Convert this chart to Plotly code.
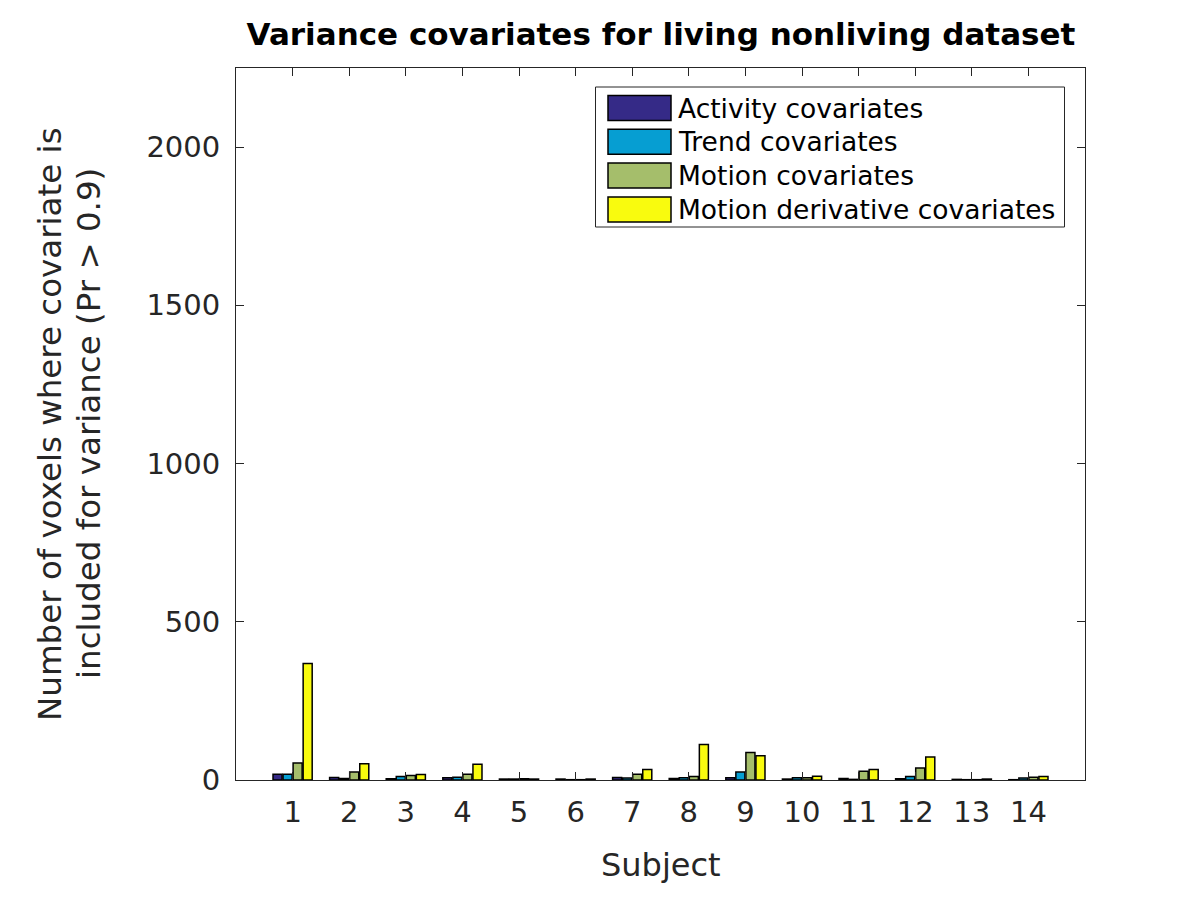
import plotly.graph_objects as go

subjects = list(range(1, 15))
activity = [18, 8, 4, 7, 3, 3, 8, 5, 7, 3, 5, 4, 2, 1]
trend = [18, 5, 11, 9, 3, 1, 6, 7, 25, 7, 2, 11, 1, 6]
motion = [54, 25, 14, 18, 4, 1, 18, 11, 87, 7, 28, 38, 1, 9]
motion_deriv = [368, 51, 17, 50, 3, 3, 33, 112, 77, 12, 33, 73, 3, 11]

series_names = ["Activity covariates", "Trend covariates", "Motion covariates",
                "Motion derivative covariates"]
series_vals = [activity, trend, motion, motion_deriv]
colors = ["#352a87", "#069ed2", "#a5be6b", "#f9fb0e"]

y_ticks = [0, 500, 1000, 1500, 2000]

title_text = "Variance covariates for living nonliving dataset"
xlabel = "Subject"
ylabel_lines = ["Number of voxels where covariate is", "included for variance (Pr > 0.9)"]

# page geometry of plot area (page pixels; body has 8px offset)
PX0, PX1, PY0, PY1 = 236, 1085, 68, 780
def px(x):
    return (x - PX0) / (PX1 - PX0)
def py(y):
    return (PY1 - y) / (PY1 - PY0)

fig = go.Figure()
for name, vals, c in zip(series_names, series_vals, colors):
    fig.add_trace(go.Bar(x=subjects, y=vals, name=name,
                         marker=dict(color=c, line=dict(color="#000000", width=1.5))))

font_family = "DejaVu Sans"
shapes = []
annotations = []

# legend box
shapes.append(dict(type="rect", xref="paper", yref="paper",
                   x0=px(595.5), x1=px(1064.5), y0=py(227), y1=py(87),
                   line=dict(color="#262626", width=1), fillcolor="white", layer="above"))
for i, (name, c) in enumerate(zip(series_names, colors)):
    cy = 108 + i * 33.8
    shapes.append(dict(type="rect", xref="paper", yref="paper",
                       x0=px(608), x1=px(671), y0=py(cy + 12.5), y1=py(cy - 12.5),
                       line=dict(color="#000000", width=1.5), fillcolor=c, layer="above"))
    annotations.append(dict(text=name, xref="paper", yref="paper",
                            x=px(676), y=py(cy), xanchor="left", yanchor="middle",
                            showarrow=False, font=dict(size=26.5, color="#000000")))

# y-axis label lines
for text, xc in zip(ylabel_lines, [50, 89]):
    annotations.append(dict(text=text, xref="paper", yref="paper",
                            x=px(xc), y=0.5, xanchor="center", yanchor="middle",
                            textangle=-90, showarrow=False,
                            font=dict(size=32.5, color="#262626")))
# x-axis label
annotations.append(dict(text=xlabel, xref="paper", yref="paper",
                        x=0.5, y=py(865), xanchor="center", yanchor="middle",
                        showarrow=False, font=dict(size=32, color="#262626")))

fig.update_layout(
    width=1200, height=900,
    barmode="group", bargap=0.29, bargroupgap=0.1,
    paper_bgcolor="white", plot_bgcolor="white",
    margin=dict(l=228, r=123, t=60, b=128),
    font=dict(family=font_family, size=29, color="#262626"),
    title=dict(text="<b>" + title_text + "</b>",
               x=px(661), xref="paper", xanchor="center",
               y=1 - (34 - 8) / 900, yanchor="middle",
               font=dict(size=31, color="#000000", family=font_family)),
    showlegend=False,
    shapes=shapes,
    annotations=annotations,
)
fig.update_xaxes(range=[0, 15], tickvals=subjects, ticktext=[str(s) for s in subjects],
                 ticks="inside", ticklen=8, tickcolor="#262626", tickwidth=1,
                 ticklabelstandoff=6,
                 showline=True, linecolor="#262626", linewidth=1, mirror="ticks",
                 showgrid=False, zeroline=False, automargin=False)
fig.update_yaxes(range=[0, 2250], tickvals=y_ticks, ticktext=[str(t) for t in y_ticks],
                 ticks="inside", ticklen=8, tickcolor="#262626", tickwidth=1,
                 ticklabelstandoff=9,
                 showline=True, linecolor="#262626", linewidth=1, mirror="ticks",
                 showgrid=False, zeroline=False, automargin=False)

fig.write_html("out.html")
